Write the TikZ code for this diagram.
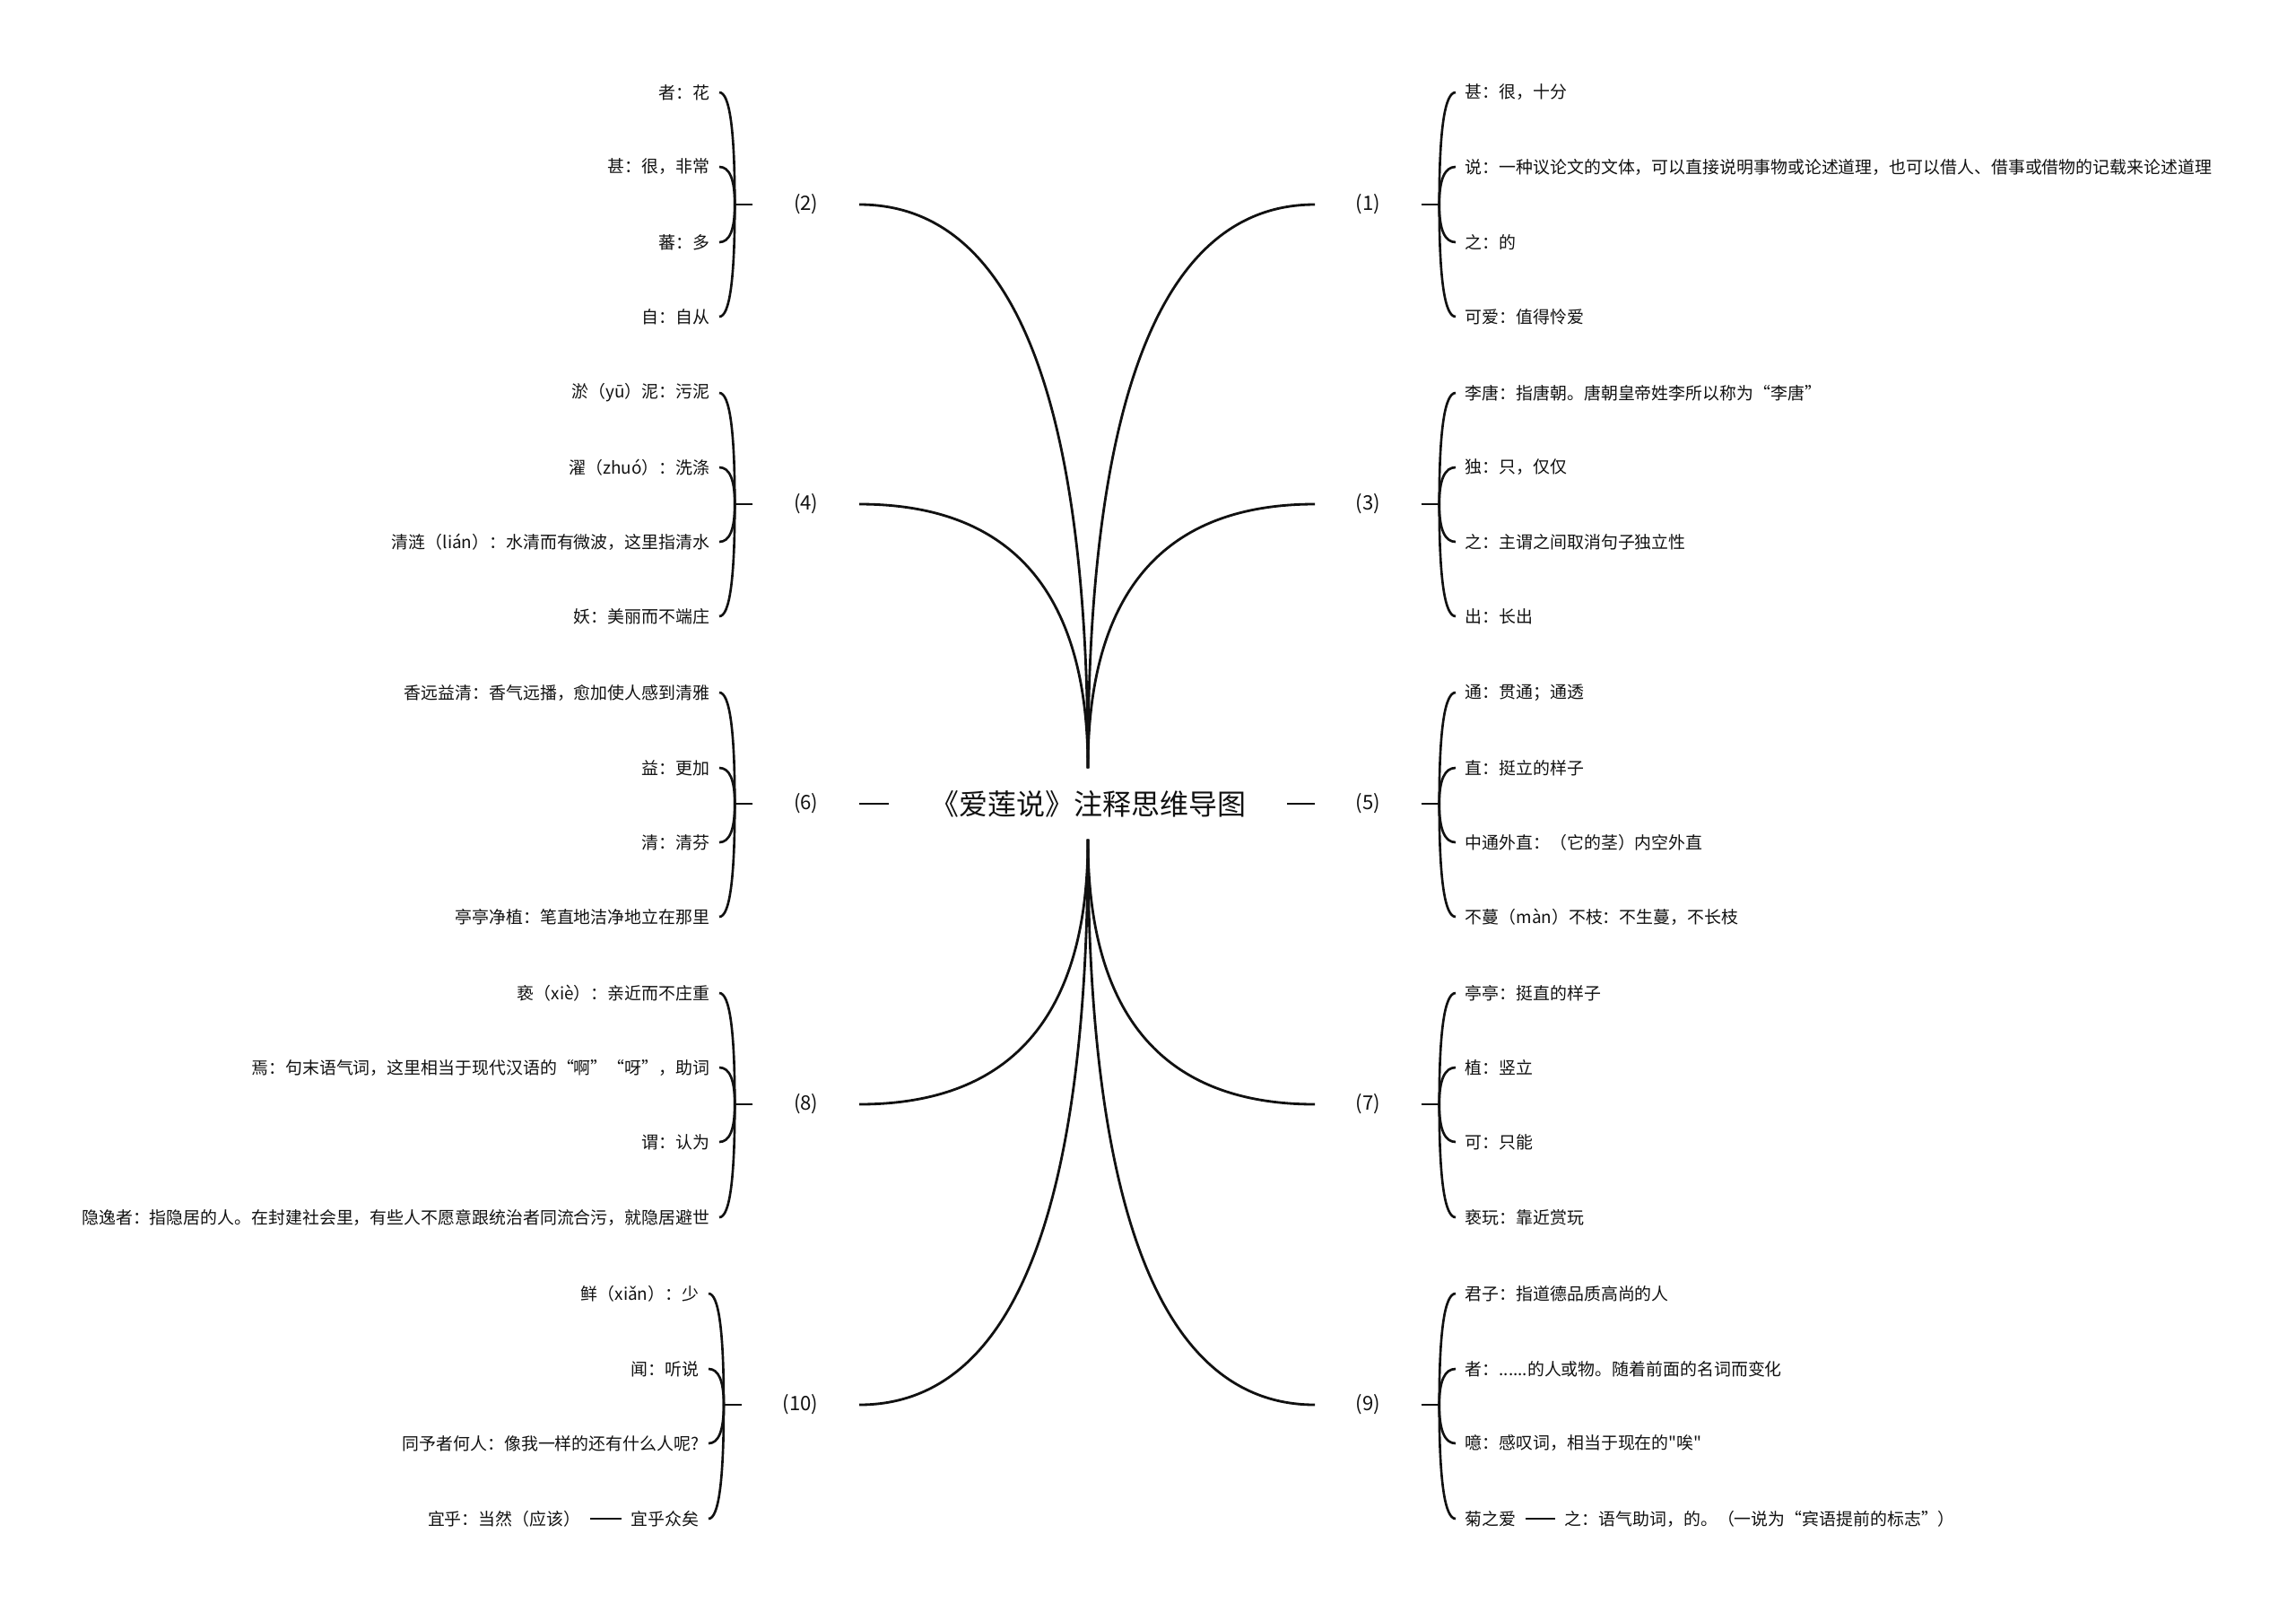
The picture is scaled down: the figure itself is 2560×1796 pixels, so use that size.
\documentclass[tikz,border=0pt]{standalone}
\usepackage{fontspec}
\setmainfont{Noto Sans CJK SC}[Ligatures=TeXOff]
\usetikzlibrary{calc}
\definecolor{mapink}{HTML}{111111}
\newcommand{\rootfont}{\fontsize{9.1pt}{11pt}\selectfont}
\newcommand{\topicfont}{\fontsize{6.3pt}{7.5pt}\selectfont}
\newcommand{\leaffont}{\fontsize{5.38pt}{6.5pt}\selectfont}
% quadratic-looking link: leaves #2 vertically, meets #3 horizontally
\newcommand{\curvelink}[3]{%
  \draw[#1] (#2) .. controls ($(#2)!2/3!(#2 |- #3)$)
    and ($(#3)!2/3!(#2 |- #3)$) .. (#3);}

\begin{document}
\begin{tikzpicture}[
  x=0.01cm,
  y=-0.01cm,
  every node/.style={text=mapink},
  root/.style={font=\rootfont, inner xsep=0.45cm, inner ysep=0pt, minimum height=0.78cm},
  topic/.style={font=\topicfont, inner xsep=0.45cm, inner ysep=2pt},
  leaf/.style={font=\leaffont, inner xsep=0.1cm, inner ysep=2pt},
  stem/.style={mapink, line width=0.8pt},
  brace/.style={mapink, line width=0.75pt}
]
  \fill[white] (0,0) rectangle (2560,1796);
  \useasboundingbox (0,0) rectangle (2560,1796);

  % ---- centre and the ten numbered topics ------------------------------
  \node[root] (root) at (1213,896) {《爱莲说》注释思维导图};

  \node[topic, anchor=east] (p2)  at (958,228)  {(2)};
  \node[topic, anchor=east] (p4)  at (958,562)  {(4)};
  \node[topic, anchor=east] (p6)  at (958,896)  {(6)};
  \node[topic, anchor=east] (p8)  at (958,1231) {(8)};
  \node[topic, anchor=east] (p10) at (958,1566) {(10)};

  \node[topic, anchor=west] (p1) at (1466,228)  {(1)};
  \node[topic, anchor=west] (p3) at (1466,562)  {(3)};
  \node[topic, anchor=west] (p5) at (1466,896)  {(5)};
  \node[topic, anchor=west] (p7) at (1466,1231) {(7)};
  \node[topic, anchor=west] (p9) at (1466,1566) {(9)};

  \curvelink{stem}{root.north}{p2.east}
  \curvelink{stem}{root.north}{p4.east}
  \curvelink{stem}{root.north}{p1.west}
  \curvelink{stem}{root.north}{p3.west}
  \curvelink{stem}{root.south}{p8.east}
  \curvelink{stem}{root.south}{p10.east}
  \curvelink{stem}{root.south}{p7.west}
  \curvelink{stem}{root.south}{p9.west}
  \draw[stem] (root.west) -- (p6.east);
  \draw[stem] (root.east) -- (p5.west);

  % ---- left side notes -------------------------------------------------
  \node[leaf, anchor=east] (c21) at (802,103) {者：花};
  \node[leaf, anchor=east] (c22) at (802,186) {甚：很，非常};
  \node[leaf, anchor=east] (c23) at (802,270) {蕃：多};
  \node[leaf, anchor=east] (c24) at (802,353) {自：自从};

  \node[leaf, anchor=east] (c41) at (802,438) {淤（yū）泥：污泥};
  \node[leaf, anchor=east] (c42) at (802,521) {濯（zhuó）：洗涤};
  \node[leaf, anchor=east] (c43) at (802,604) {清涟（lián）：水清而有微波，这里指清水};
  \node[leaf, anchor=east] (c44) at (802,687) {妖：美丽而不端庄};

  \node[leaf, anchor=east] (c61) at (802,772)  {香远益清：香气远播，愈加使人感到清雅};
  \node[leaf, anchor=east] (c62) at (802,856)  {益：更加};
  \node[leaf, anchor=east] (c63) at (802,939)  {清：清芬};
  \node[leaf, anchor=east] (c64) at (802,1022) {亭亭净植：笔直地洁净地立在那里};

  \node[leaf, anchor=east] (c81) at (802,1107) {亵（xiè）：亲近而不庄重};
  \node[leaf, anchor=east] (c82) at (802,1190) {焉：句末语气词，这里相当于现代汉语的“啊”“呀”，助词};
  \node[leaf, anchor=east] (c83) at (802,1273) {谓：认为};
  \node[leaf, anchor=east] (c84) at (802,1357) {隐逸者：指隐居的人。在封建社会里，有些人不愿意跟统治者同流合污，就隐居避世};

  \node[leaf, anchor=east] (c101) at (790,1442) {鲜（xiǎn）：少};
  \node[leaf, anchor=east] (c102) at (790,1526) {闻：听说};
  \node[leaf, anchor=east] (c103) at (790,1609) {同予者何人：像我一样的还有什么人呢?};
  \node[leaf, anchor=east] (c104) at (790,1693) {宜乎众矣};
  \node[leaf, anchor=east] (c105) at (658,1693) {宜乎：当然（应该）};
  \draw[stem] (c104.west) -- (c105.east);

  % ---- right side notes ------------------------------------------------
  \node[leaf, anchor=west] (c11) at (1623,103) {甚：很，十分};
  \node[leaf, anchor=west] (c12) at (1623,186) {说：一种议论文的文体，可以直接说明事物或论述道理，也可以借人、借事或借物的记载来论述道理};
  \node[leaf, anchor=west] (c13) at (1623,270) {之：的};
  \node[leaf, anchor=west] (c14) at (1623,353) {可爱：值得怜爱};

  \node[leaf, anchor=west] (c31) at (1623,438) {李唐：指唐朝。唐朝皇帝姓李所以称为“李唐”};
  \node[leaf, anchor=west] (c32) at (1623,521) {独：只，仅仅};
  \node[leaf, anchor=west] (c33) at (1623,604) {之：主谓之间取消句子独立性};
  \node[leaf, anchor=west] (c34) at (1623,687) {出：长出};

  \node[leaf, anchor=west] (c51) at (1623,772)  {通：贯通；通透};
  \node[leaf, anchor=west] (c52) at (1623,856)  {直：挺立的样子};
  \node[leaf, anchor=west] (c53) at (1623,939)  {中通外直：（它的茎）内空外直};
  \node[leaf, anchor=west] (c54) at (1623,1022) {不蔓（màn）不枝：不生蔓，不长枝};

  \node[leaf, anchor=west] (c71) at (1623,1107) {亭亭：挺直的样子};
  \node[leaf, anchor=west] (c72) at (1623,1190) {植：竖立};
  \node[leaf, anchor=west] (c73) at (1623,1273) {可：只能};
  \node[leaf, anchor=west] (c74) at (1623,1357) {亵玩：靠近赏玩};

  \node[leaf, anchor=west] (c91) at (1623,1442) {君子：指道德品质高尚的人};
  \node[leaf, anchor=west] (c92) at (1623,1526) {者：......的人或物。随着前面的名词而变化};
  \node[leaf, anchor=west] (c93) at (1623,1609) {噫：感叹词，相当于现在的"唉"};
  \node[leaf, anchor=west] (c94) at (1623,1693) {菊之爱};
  \node[leaf, anchor=west] (c95) at (1734,1693) {之：语气助词，的。（一说为“宾语提前的标志”）};
  \draw[stem] (c94.east) -- (c95.west);

  % ---- braces ------------------------------------------------------------
  \coordinate (s2)  at ([xshift=-0.2cm]p2.west);
  \coordinate (s4)  at ([xshift=-0.2cm]p4.west);
  \coordinate (s6)  at ([xshift=-0.2cm]p6.west);
  \coordinate (s8)  at ([xshift=-0.2cm]p8.west);
  \coordinate (s10) at ([xshift=-0.2cm]p10.west);
  \coordinate (s1)  at ([xshift=0.2cm]p1.east);
  \coordinate (s3)  at ([xshift=0.2cm]p3.east);
  \coordinate (s5)  at ([xshift=0.2cm]p5.east);
  \coordinate (s7)  at ([xshift=0.2cm]p7.east);
  \coordinate (s9)  at ([xshift=0.2cm]p9.east);

  \draw[brace] (p2.west) -- (s2);
  \curvelink{brace}{s2}{c21.east} \curvelink{brace}{s2}{c22.east}
  \curvelink{brace}{s2}{c23.east} \curvelink{brace}{s2}{c24.east}
  \draw[brace] (p4.west) -- (s4);
  \curvelink{brace}{s4}{c41.east} \curvelink{brace}{s4}{c42.east}
  \curvelink{brace}{s4}{c43.east} \curvelink{brace}{s4}{c44.east}
  \draw[brace] (p6.west) -- (s6);
  \curvelink{brace}{s6}{c61.east} \curvelink{brace}{s6}{c62.east}
  \curvelink{brace}{s6}{c63.east} \curvelink{brace}{s6}{c64.east}
  \draw[brace] (p8.west) -- (s8);
  \curvelink{brace}{s8}{c81.east} \curvelink{brace}{s8}{c82.east}
  \curvelink{brace}{s8}{c83.east} \curvelink{brace}{s8}{c84.east}
  \draw[brace] (p10.west) -- (s10);
  \curvelink{brace}{s10}{c101.east} \curvelink{brace}{s10}{c102.east}
  \curvelink{brace}{s10}{c103.east} \curvelink{brace}{s10}{c104.east}

  \draw[brace] (p1.east) -- (s1);
  \curvelink{brace}{s1}{c11.west} \curvelink{brace}{s1}{c12.west}
  \curvelink{brace}{s1}{c13.west} \curvelink{brace}{s1}{c14.west}
  \draw[brace] (p3.east) -- (s3);
  \curvelink{brace}{s3}{c31.west} \curvelink{brace}{s3}{c32.west}
  \curvelink{brace}{s3}{c33.west} \curvelink{brace}{s3}{c34.west}
  \draw[brace] (p5.east) -- (s5);
  \curvelink{brace}{s5}{c51.west} \curvelink{brace}{s5}{c52.west}
  \curvelink{brace}{s5}{c53.west} \curvelink{brace}{s5}{c54.west}
  \draw[brace] (p7.east) -- (s7);
  \curvelink{brace}{s7}{c71.west} \curvelink{brace}{s7}{c72.west}
  \curvelink{brace}{s7}{c73.west} \curvelink{brace}{s7}{c74.west}
  \draw[brace] (p9.east) -- (s9);
  \curvelink{brace}{s9}{c91.west} \curvelink{brace}{s9}{c92.west}
  \curvelink{brace}{s9}{c93.west} \curvelink{brace}{s9}{c94.west}
\end{tikzpicture}
\end{document}
